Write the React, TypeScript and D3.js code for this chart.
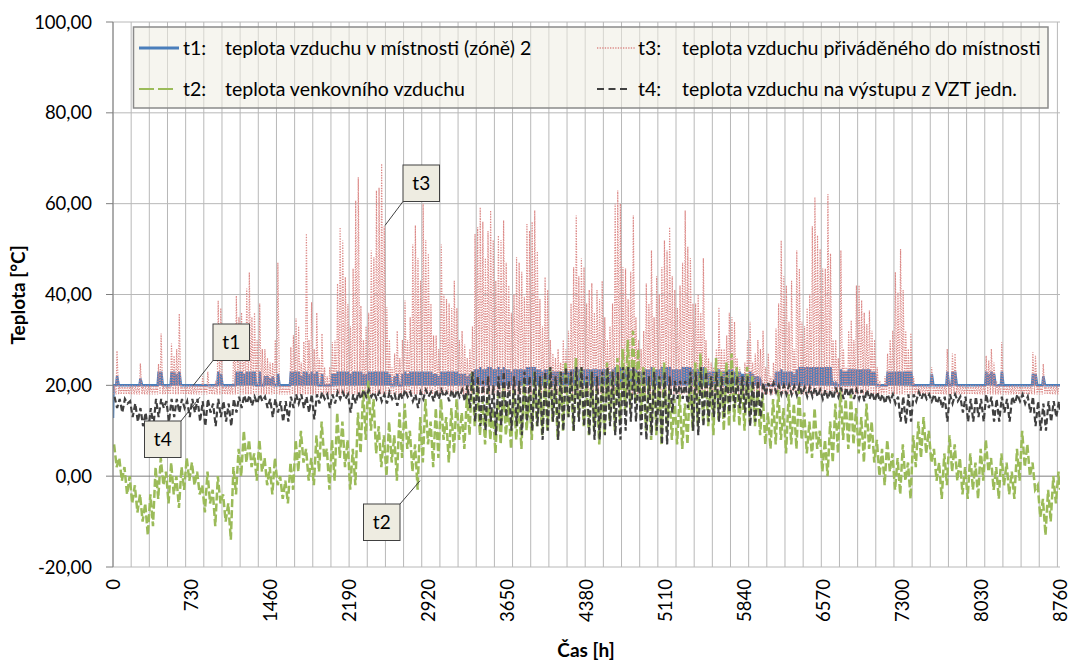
import React from 'react';
import * as d3 from 'd3';

// ---------- axis / tick data ----------
const yTicks = [-20, 0, 20, 40, 60, 80, 100];
const xTickLabels = [0, 730, 1460, 2190, 2920, 3650, 4380, 5110, 5840, 6570, 7300, 8030, 8760];
const gridStepHours = 168;
const totalHours = 8760;

// ---------- series data ----------
// t1: room air temperature, baseline + daily maximum per day (365 days)
const t1Start = 12.8;
const t1Base = 20;
const t1Hi = [
  20,22,20,20,20,20,20,20,20,20,
  21.5,20,20,20,20,20,20,23,23,20,
  20,20,23,23,22.5,23,20,20,20,20,
  20,20,20,20,20,20,20,20,20,20,
  23,22.5,20,20,20,20,20,23,23,23,
  22.5,23,23,23,23,20,23,20,22,22,
  21.5,22,20,22.5,20,20,20,20,23,23,
  23,23,22,23,23,22.5,23,22.5,23,20,
  22.5,20,20,20,22.5,22.5,23,23,23,23,
  23,22.5,23,23,23,23,22.5,22.5,23,23,
  23,23,23,23,23,23,22.5,20,22,22.5,
  20,22.5,23,22.5,23,23,23,23,23,23,
  23,23,23,22.5,22.5,22,23,23,23,23,
  23,23,23,22.5,22.5,22.5,22,22.5,23,23.5,
  23.5,24,23.5,23.5,24,24,23.5,23.5,24,23.5,
  24,23.5,23.5,23,23.5,23.5,23.5,23.5,23.5,24,
  24,24,24,23.5,23.5,23,23.5,23.5,23,23,
  23,23,23,23,23,23,23.5,23.5,24,23.5,
  23.5,23.5,23.5,23.5,23.5,23.5,23.5,23.5,23.5,23.5,
  23,23,23.5,24,24,24,23.5,23.5,23.5,23.5,
  24,23.5,23,23,23.5,23.5,23.5,24,23.5,23.5,
  23.5,24,24,24,24,23.5,23.5,23.5,23.5,24,
  24,24,24,23.5,23.5,23.5,23.5,24,23.5,23,
  23,23,23.5,23.5,23,23,23.5,23.5,23.5,23,
  23,23,22.5,22.5,22.5,23,22.5,22,22,21,
  20,20,20,20,20,23,23,23.5,23,23,
  23,23,22.5,23.5,24,24,24,24,24,24,
  24,24,24,24,24,24,24,20.5,20.5,20,
  23.5,23,23,23.5,23.5,23.5,23.5,23.5,23.5,23.5,
  23.5,23.5,23,23,20,20,20,20,23,23,
  23,23,23,23,23,23,23,23,20,20,
  20,20,20,20,20,22.5,20,20,20,20,
  20,23,20,23,23,20,20,20,20,20,
  20,20,20,20,20,20,23,22.5,23,22.5,
  20,20,23,20,20,20,20,20,20,20,
  20,20,20,20,22.5,22.5,20,20,22,20,
  20,20,20,20,20
];

// t3: supply air temperature, night value + daily peak per day (365 days)
const t3Base = 18;
const t3Hi = [
  20,27.6,20,20,20,20,20,20,20,20,
  24.8,20,20,20,20,20,20,24.7,31.4,20,
  20,20,29.2,26.5,28,35.8,20,20,20,20,
  20,20,20,20,22,20,23,20,20,21,
  38.6,37,20,20,20,20,30,39.7,35,36,
  33,41.3,44.9,35,36,30,38,28,28,26,
  25,25,30,47,20,20,20,20,28.4,31,
  34.7,33,25,29.6,53.4,30,38.3,28,36,26,
  31.4,24,22,24,29.5,30,42.4,54.8,51.9,43.8,
  37.9,33,45.7,60.7,65.8,37.5,30,33,36,49.7,
  48.2,62.9,63.5,68.8,55,37.2,30,24,27,32,
  26,30,38.7,30,35,51,55.2,48,43,60,
  52,49,38,31,31,28,51,40,39,38,
  37,43,37,30,32,29,26,28,33,53.3,
  54.8,59.2,56,48,54,58.5,52,43,53,52,
  56.3,47,42,36,40,48.2,47,45,39.5,55.5,
  54,56,58.5,49.5,39,33,43.8,41,30,27,
  26,28,25,30,28,32,38,46,57.4,44,
  48,46,38,41,42.5,36,41,39,43,35,
  30,33,38,60,62.9,60,46,45.7,39,45,
  57.4,35,30,28,32,42.4,38,49.7,35,44,
  40,46,51.9,49.7,54.8,44,41,37,42,47,
  58.5,50.5,48,38,38,40,36,48,30,26,
  25,24,28,37.2,28,28,31,36,35,34,
  26,24,22,25,30,34,25,27,30,28,
  32,24,27,22,25,32.5,38,51.9,44,42,
  34,43,28,49.7,45.7,34,33,37,40,55,
  61.4,53,50,45.7,45.7,62.1,49,30,30,26,
  49.7,28,24,32,34.3,30,42,42,38.7,36,
  33.5,36.5,32,30,24,21,20,22,27,30,
  32,44.9,40.5,50,41,32,28,31.5,22,20,
  20,20,20,20,20,24,20,20,20,20,
  20,28,21,27,27,20,20,20,20,20,
  20,20,20,20,20,20,26.5,25.5,28,25,
  21,20,29.5,20,20,20,20,20,20,20,
  20,20,20,20,27.3,26.5,20,20,24.7,20,
  20,20,20,20,20
];

// t2: outdoor air, high / low per 2-day block (183 blocks)
const t2Hi = [
  7,4,2,0,-2,-4,-6,-4,2,4,
  1,3,0,2,4,3,1,-2,1,-3,
  0,-4,-6,2,6,10,8,5,8,4,
  2,4,0,-1,3,8,10,6,4,9,
  12,6,8,14,12,8,6,14,19,21,
  17,11,9,12,9,14,16,10,7,13,
  17,12,15,17,13,15,17,14,18,23,
  20,17,19,15,18,20,16,19,17,21,
  18,23,20,22,24,20,23,25,22,26,
  24,21,23,19,22,25,23,26,28,30,
  32,28,24,21,24,22,25,19,17,18,
  16,22,25,27,24,22,26,23,25,27,
  24,21,24,22,19,18,14,17,19,15,
  18,16,19,14,12,15,10,8,12,16,
  19,17,18,15,13,16,12,8,6,8,
  5,4,7,3,9,12,13,10,6,3,
  5,9,7,4,2,5,3,6,8,4,
  2,5,3,1,6,10,7,3,-2,-5,
  -3,0,1
];
const t2Lo = [
  2,-1,-4,-6,-8,-10,-13,-11,-5,-2,
  -6,-4,-7,-3,-1,-2,-4,-8,-6,-11,
  -6,-10,-14,-4,0,3,2,-1,1,-2,
  -4,-2,-5,-6,-3,1,3,-1,-2,1,
  4,-3,-1,4,2,-3,-2,5,8,10,
  5,2,0,3,-1,4,6,1,-3,3,
  7,2,4,8,3,5,8,6,9,11,
  9,7,8,5,7,9,6,8,6,10,
  8,11,9,10,12,8,10,13,10,13,
  11,9,10,7,9,12,10,12,14,15,
  16,13,10,8,9,7,10,8,7,6,
  7,10,11,12,11,9,12,10,11,12,
  11,10,12,11,9,7,6,7,8,5,
  7,6,8,5,4,6,1,0,3,5,
  8,6,7,5,3,6,3,0,-2,1,
  -3,-4,-1,-5,2,4,5,3,-1,-5,
  -2,1,-1,-4,-5,-3,-5,-1,1,-3,
  -5,-2,-4,-5,-1,2,0,-3,-9,-13,
  -10,-6,-3
];

// t4: air at AHU outlet, high / low per 2-day block (183 blocks)
const t4Hi = [
  17.5,17,17,16.5,16,15,14,15,17,17,
  16.5,17,17,17,16.5,17,17,16.5,17,16,
  17,16.5,16,17,17.5,17.8,17.8,17.5,18,17.5,
  17,17,16.5,16.5,17.5,18,18,17.5,18,18,
  18.5,18,18,18.5,18.5,18,18,18.5,19,19,
  18.5,18.5,18,18.5,18,18.5,19,18.5,18,18.5,
  19,18.5,19,19,18.5,19,19,19,20,23,
  22,21,22,20,22,23,21,22,21,23,
  22,23,22,23,24,22,23,24,23,24,
  24,22,23,22,23,24,23,23,24,24,
  24,23,23,22,23,22,23,22,21,21,
  21,23,23,24,23,22,23,22,23,23,
  22,22,22,21,21,20.5,20.5,20.5,20,20,
  20,19.8,20,19.5,19.5,19.5,19,19,19,19.5,
  19.5,19.5,19.5,19,19,19,18.5,18.5,18,18,
  18,17.5,17.5,18,18,18.5,18.5,18,18,17.5,
  17.5,18,18,17.5,17.5,17,17.5,17,18,17.5,
  17,17.5,17,17.5,18,18,17.5,17.5,16.5,16,
  16.5,16.5,16.5
];
const t4Lo = [
  15,14,16,13,12,11,10,11,13,15,
  12,13,14,15,13,14,12,11,14,11,
  13,12,11,14,15,16,15.5,16,16.5,15,
  13,14,12,12,15,16,15,14,12.5,16,
  17,15,16,17,17,14,16,17,17.5,17.5,
  17,16.5,16,17,15.5,17,17.5,16.5,15,17,
  17.5,16.5,17,17.5,16.5,17,17.5,16.5,15,12,
  11,10,12,9,11,13,10,11,9,12,
  10,11,8,10,12,8,10,13,10,12,
  11,9,8,8,9,11,9,8,10,12,
  12,9,8,9,10,7,7,14,17,17,
  15,10,9,11,12,13,12,13,14,15,
  15,14,11,12,13,18,18.5,18.5,18,18,
  18,17.8,18,17.5,17.5,17.5,17,17,17,17.5,
  17,17.5,17,17,16.5,17,16.5,16.5,16,16.5,
  16,12,11.5,12,16.5,17,17,16.5,16,15,
  12,16,16.5,14,12,12,13,12,15,12,
  12,14,12,16,16.5,16,14,11,10,10,
  12,13,14
];

const legendItems = [
  { key: 't1', label: 'teplota vzduchu v místnosti (zóně) 2' },
  { key: 't3', label: 'teplota vzduchu přiváděného do místnosti' },
  { key: 't2', label: 'teplota venkovního vzduchu' },
  { key: 't4', label: 'teplota vzduchu na výstupu z VZT jedn.' },
];

// callout anchor points [hour, value]
const callouts = [
  { label: 't1', anchor: [743, 20], box: [213, 324] },
  { label: 't4', anchor: [805, 17.4], box: [144.5, 421] },
  { label: 't3', anchor: [2516, 55.2], box: [403, 165] },
  { label: 't2', anchor: [2840, -1], box: [363.5, 504] },
];

const COLORS: Record<string, string> = {
  t1: '#4a7ebb',
  t2: '#9bbb59',
  t3: '#dc8a88',
  t4: '#404040',
};

const FONT = "Lato, 'Open Sans', 'Liberation Sans', sans-serif";

export default function App() {
  const left = 113, right = 1060, top = 22, bottom = 567;
  const x = d3.scaleLinear().domain([0, totalHours]).range([left, right]);
  const y = d3.scaleLinear().domain([-20, 100]).range([bottom, top]);
  const line = d3.line<[number, number]>().x(d => x(d[0])).y(d => y(d[1]));
  const clampH = (h: number) => Math.min(h, totalHours);
  const fmt = (v: number) => d3.format('.2f')(v).replace('.', ',').replace('\u2212', '-');

  const t1Pts: [number, number][] = [[0, t1Start]];
  t1Hi.forEach((v, d) => {
    t1Pts.push([24 * d + 5, t1Base]);
    t1Pts.push([24 * d + 14, v]);
  });
  t1Pts.push([totalHours, t1Base]);

  const t3Pts: [number, number][] = [];
  t3Hi.forEach((v, d) => {
    t3Pts.push([24 * d + 4, t3Base]);
    t3Pts.push([24 * d + 13, v]);
  });

  const t2Pts: [number, number][] = [];
  t2Hi.forEach((v, b) => {
    t2Pts.push([clampH(48 * b + 10), v]);
    t2Pts.push([clampH(48 * b + 34), t2Lo[b]]);
  });

  const t4Pts: [number, number][] = [];
  t4Hi.forEach((v, b) => {
    t4Pts.push([clampH(48 * b + 14), v]);
    t4Pts.push([clampH(48 * b + 38), t4Lo[b]]);
  });

  const vGrid = d3.range(0, totalHours + 1, gridStepHours);

  const legendSample = (key: string, x0: number, x1: number, yy: number) => {
    const common = { x1: x0, x2: x1, y1: yy, y2: yy };
    if (key === 't1') return <line {...common} stroke={COLORS.t1} strokeWidth={3} />;
    if (key === 't3') return <line {...common} stroke={COLORS.t3} strokeWidth={1.3} strokeDasharray="1.3 1.3" />;
    if (key === 't2') return <line {...common} stroke={COLORS.t2} strokeWidth={2} strokeDasharray="15 4" />;
    return <line {...common} stroke={COLORS.t4} strokeWidth={2} strokeDasharray="7 4.5" />;
  };

  const legendPos: Record<string, [number, number]> = {
    t1: [139, 48], t3: [597, 48], t2: [139, 89], t4: [597, 89],
  };

  return (
    <svg width={1071} height={666} style={{ position: 'absolute', left: 0, top: 0, background: '#fff' }}
      fontFamily={FONT}>
      <defs>
        <clipPath id="plot">
          <rect x={left} y={top - 2} width={right - left} height={bottom - top + 4} />
        </clipPath>
      </defs>
      <rect x={0} y={0} width={1071} height={666} fill="#fff" />

      {/* vertical gridlines */}
      {vGrid.map(h => (
        <line key={'v' + h} x1={x(h)} x2={x(h)} y1={top} y2={bottom} stroke="#b8b8b8" strokeWidth={1} />
      ))}
      {/* horizontal gridlines */}
      {yTicks.map(v => (
        <line key={'h' + v} x1={left} x2={right} y1={y(v)} y2={y(v)}
          stroke={v === 0 ? '#7f7f7f' : '#b8b8b8'} strokeWidth={1} />
      ))}

      {/* legend box */}
      <rect x={133.5} y={27} width={914.5} height={81} fill="#eeece1" fillOpacity={0.55}
        stroke="#8a8a8a" strokeWidth={1.5} />
      {legendItems.map(it => {
        const [lx, ly] = legendPos[it.key];
        const col2 = lx > 500;
        const sampleEnd = it.key === 't1' ? 179 : it.key === 't2' ? 173 : it.key === 't3' ? 635 : 628;
        return (
          <g key={it.key}>
            {legendSample(it.key, lx, sampleEnd, ly)}
            <text x={lx + (col2 ? 41 : 44)} y={ly + 7} fontSize={19.5} fill="#000">{it.key + ':'}</text>
            <text x={lx + (col2 ? 85 : 86)} y={ly + 7} fontSize={19.5} fill="#000">{it.label}</text>
          </g>
        );
      })}

      {/* series */}
      <g clipPath="url(#plot)">
        <path d={line(t1Pts) || ''} fill="none" stroke={COLORS.t1} strokeWidth={2.5} strokeLinejoin="miter" />
        <path d={line(t3Pts) || ''} fill="none" stroke={COLORS.t3} strokeWidth={1.2} strokeDasharray="1.3 1.3" />
        <path d={line(t2Pts) || ''} fill="none" stroke={COLORS.t2} strokeWidth={2.5} strokeDasharray="8 3" />
        <path d={line(t4Pts) || ''} fill="none" stroke={COLORS.t4} strokeWidth={2.2} strokeDasharray="6 3" />
      </g>

      {/* y axis */}
      <line x1={left} x2={left} y1={top} y2={bottom} stroke="#7f7f7f" strokeWidth={1} />
      {yTicks.map(v => (
        <g key={'yt' + v}>
          <line x1={left - 7} x2={left} y1={y(v)} y2={y(v)} stroke="#7f7f7f" strokeWidth={1} />
          <text x={92} y={y(v) + 6.5} textAnchor="end" fontSize={18.5} fill="#000">{fmt(v)}</text>
        </g>
      ))}

      {/* x tick labels */}
      {xTickLabels.map(h => (
        <text key={'xt' + h} transform={`translate(${x(h) + 6.5},${579}) rotate(-90)`}
          textAnchor="end" fontSize={18.5} fill="#000">{h}</text>
      ))}

      {/* axis titles */}
      <text transform={`translate(25,${295}) rotate(-90)`} textAnchor="middle" fontSize={19}
        fontWeight="bold" fill="#000">Teplota [°C]</text>
      <text x={586} y={657} textAnchor="middle" fontSize={19} fontWeight="bold" fill="#000">Čas [h]</text>

      {/* callouts */}
      {callouts.map(c => {
        const [bx, by] = c.box;
        const ax = x(c.anchor[0]);
        const ay = y(c.anchor[1]);
        const bw = 36.5, bh = 36.5;
        const cx = ax < bx ? bx : bx + bw;
        const cy = ay > by + bh ? by + bh : by;
        return (
          <g key={c.label}>
            <line x1={cx} y1={cy} x2={ax} y2={ay} stroke="#404040" strokeWidth={1} />
            <rect x={bx} y={by} width={bw} height={bh} fill="#eeece1" stroke="#404040" strokeWidth={1} />
            <text x={bx + bw / 2} y={by + bh / 2 + 7} textAnchor="middle" fontSize={19} fill="#000">{c.label}</text>
          </g>
        );
      })}
    </svg>
  );
}
